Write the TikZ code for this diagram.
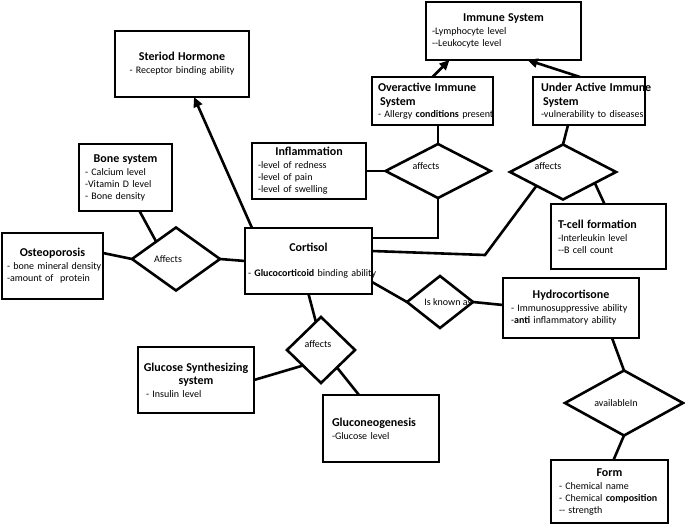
\documentclass[tikz,border=0pt]{standalone}
\usepackage{fontspec}
\setmainfont{Carlito}
\usepackage{tikz}
\usetikzlibrary{arrows.meta, positioning, calc, shapes.geometric}

\newcommand{\ttl}[1]{\makebox[\linewidth]{\fontsize{12}{14}\selectfont\bfseries #1}}
\newcommand{\ttll}[1]{\mbox{\fontsize{12}{14}\selectfont\bfseries #1}}

\begin{document}
\begin{tikzpicture}[x=1pt, y=-1pt,
  entity/.style={draw, line width=2.6pt, anchor=north west, outer sep=0pt,
    inner xsep=6pt, inner ysep=0pt, align=left, font=\fontsize{10}{12}\selectfont},
  relation/.style={draw, diamond, line width=2.6pt, inner sep=0pt, outer sep=0pt},
  every label/.style={font=\fontsize{10}{12}\selectfont},
  link/.style={line width=2.6pt},
  isa/.style={line width=2.6pt, -{Triangle[length=10pt, width=9pt]}}]
  \useasboundingbox (0,0) rectangle (685,525);

  % 中央
  \node[entity, minimum width=127, minimum height=66, inner xsep=3pt, text width=121] (cort) at (245,228)
    {\ttl{Cortisol}\\[13pt] \mbox{- \textbf{Glucocorticoid} binding ability}};

  % 左側
  \node[entity, minimum width=134, minimum height=66, text width=122, align=center] (ster) at (115,31)
    {\ttll{Steriod Hormone}\\[1pt] - Receptor binding ability};
  \node[entity, minimum width=93, minimum height=67, text width=81] (bone) at (79,144)
    {\ttl{Bone system}\\[1pt] - Calcium level\\ -Vitamin D level\\ - Bone density};
  \node[entity, minimum width=101, minimum height=66, inner xsep=5pt, text width=91] (osteo) at (2,233)
    {\ttl{Osteoporosis}\\[1pt] \mbox{- bone mineral density}\\ -amount of\ \ protein};
  \node[relation, minimum width=88, minimum height=63, label={[xshift=-8pt]center:Affects}] (aff1) at (176,259) {};

  % 免疫系
  \node[entity, minimum width=114, minimum height=56, text width=102] (infl) at (252,143)
    {\ttl{Inflammation}\\[1pt] -level of redness\\ -level of pain\\ -level of swelling};
  \node[entity, minimum width=155, minimum height=58, text width=143] (imm) at (426,2)
    {\ttl{Immune System}\\[1pt] -Lymphocyte level\\ -{}-Leukocyte level};
  \node[entity, minimum width=121, minimum height=48, text width=109] (over) at (372,77)
    {\ttll{Overactive Immune}\\[2pt] \hspace*{2pt}\ttll{System}\\ \mbox{- Allergy \textbf{conditions} present}};
  \node[entity, minimum width=112, minimum height=48, inner xsep=8pt, text width=96] (under) at (533,77)
    {\ttll{Under Active Immune}\\[2pt] \hspace*{2pt}\ttll{System}\\ \mbox{-vulnerability to diseases}};
  \node[entity, minimum width=115, minimum height=65, inner xsep=7pt, text width=101] (tcell) at (551,204)
    {\ttll{T-cell formation}\\[1pt] -Interleukin level\\ -{}-B cell count};
  \node[relation, minimum width=105, minimum height=54, label={[xshift=-12pt, yshift=5pt]center:affects}] (aff2) at (438,171) {};
  \node[relation, minimum width=106, minimum height=55, label={[xshift=-15pt, yshift=6pt]center:affects}] (aff3) at (563,172) {};

  % 右下
  \node[relation, minimum width=66, minimum height=52, label={[xshift=8pt]center:Is known as}] (known) at (440,302) {};
  \node[entity, minimum width=136, minimum height=60, inner xsep=8pt, text width=120] (hydro) at (503,278)
    {\ttl{Hydrocortisone}\\[1pt] - Immunosuppressive ability\\ -\textbf{anti} inflammatory ability};
  \node[relation, minimum width=118, minimum height=65, label={[xshift=-8pt]center:availableIn}] (avail) at (624,403) {};
  \node[entity, minimum width=117, minimum height=63, inner xsep=8pt, text width=101] (form) at (551,460)
    {\ttl{Form}\\[1pt] - Chemical name\\ - Chemical \textbf{composition}\\ -{}- strength};

  % 下側
  \node[relation, minimum width=68, minimum height=66, label={[xshift=-3pt, yshift=6pt]center:affects}] (aff4) at (321,350) {};
  \node[entity, minimum width=116, minimum height=66, text width=104] (glu) at (138,347)
    {\ttl{Glucose Synthesizing}\\[1pt] \ttl{system}\\[1pt] \hspace*{2pt}- Insulin level};
  \node[entity, minimum width=116, minimum height=67, inner xsep=9pt, text width=98] (gneo) at (323,395)
    {\ttll{Gluconeogenesis}\\[1pt] -Glucose level};

  \coordinate (kink) at (485,255);

  % 矢印
  \draw[isa] ([xshift=7pt]cort.north west) -- ([xshift=12pt]ster.south);
  \draw[isa] (over.north) -- ([xshift=-54pt]imm.south);
  \draw[isa] ([xshift=-9pt]under.north) -- ([xshift=24pt]imm.south);

  % 線
  \draw[link] ([xshift=14pt]bone.south) -- ($(aff1.west)!0.55!(aff1.north)$);
  \draw[link] ([yshift=13pt]osteo.east) -- (aff1.west);
  \draw[link] (aff1.east) -- (cort.west);
  \draw[link] (infl.east) -- (aff2.west);
  \draw[link] (aff2.north |- over.south) -- (aff2.north);
  \draw[link] (aff2.south) |- ([yshift=-10pt]cort.north east);
  \draw[link] ([xshift=-21pt]under.south) -- (aff3.north);
  \draw[link] ($(aff3.west)!0.5!(aff3.south)$) -- (kink) -- ([yshift=-23pt]cort.north east);
  \draw[link] ($(aff3.east)!0.4!(aff3.south)$) -- ([xshift=-4pt]tcell.north);
  \draw[link] ([yshift=12pt]cort.south east) -- (known.west);
  \draw[link] (known.east) -- ([yshift=3pt]hydro.west);
  \draw[link] ([xshift=41pt]hydro.south) -- (avail.north);
  \draw[link] (avail.south) -- ([xshift=4pt]form.north);
  \draw[link] (cort.south) -- ($(aff4.north)!0.15!(aff4.west)$);
  \draw[link] (glu.east) -- ($(aff4.west)!0.47!(aff4.south)$);
  \draw[link] ($(aff4.south)!0.47!(aff4.east)$) -- ([xshift=-22pt]gneo.north);
\end{tikzpicture}
\end{document}
